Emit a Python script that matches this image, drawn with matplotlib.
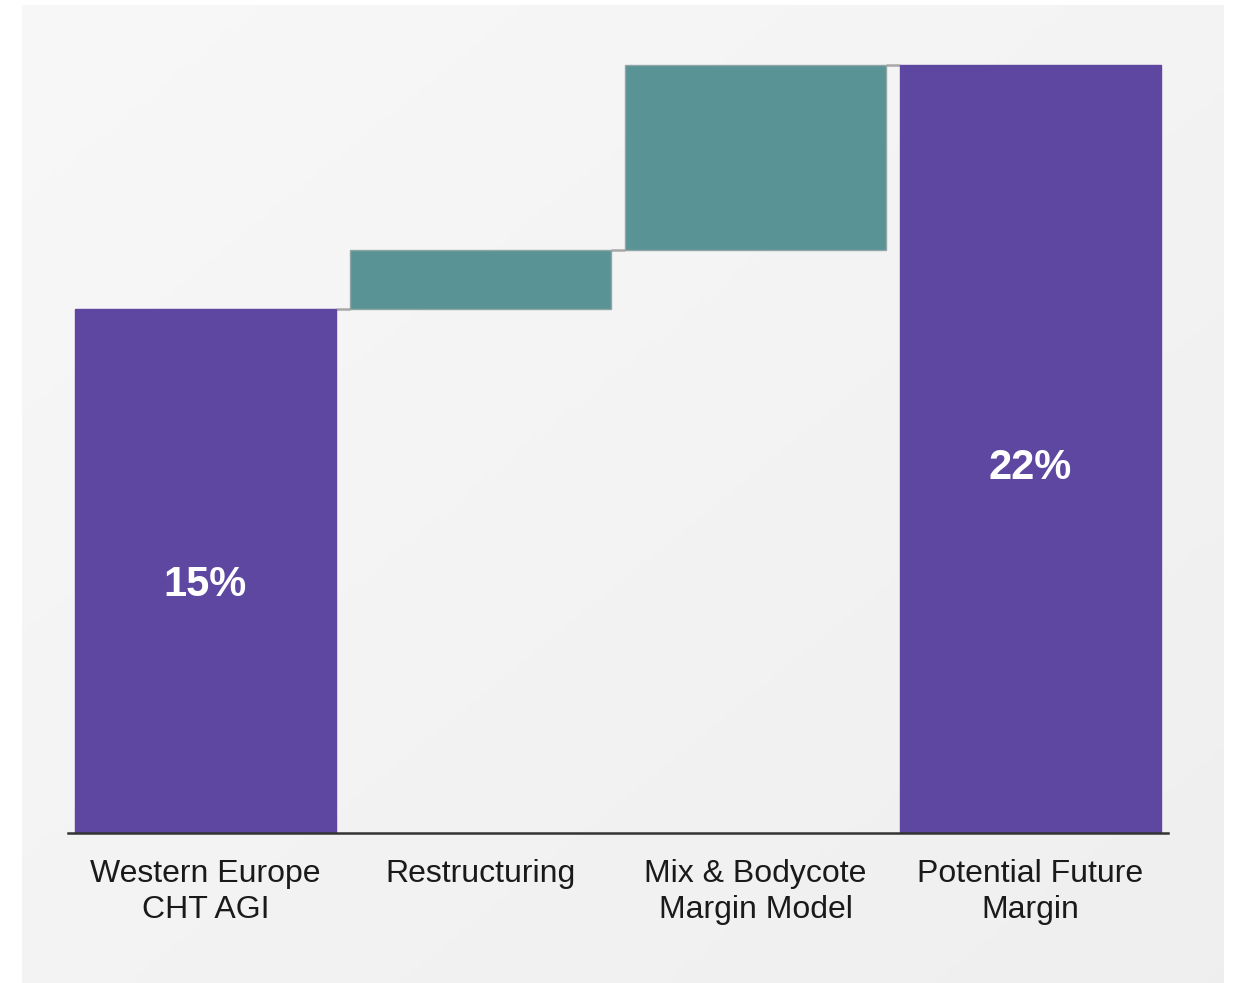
import numpy as np
import matplotlib
matplotlib.use("Agg")
import matplotlib.pyplot as plt

plt.rcParams['font.family'] = ['Liberation Sans', 'DejaVu Sans']

# waterfall data (margin %)
categories = ["Western Europe\nCHT AGI", "Restructuring",
              "Mix & Bodycote\nMargin Model", "Potential Future\nMargin"]
start_value = 15.0
steps = [1.7, 5.3]
end_value = 22.0
bar_labels = ["15%", "22%"]

purple = "#5e47a0"
teal = "#5a9396"

fig = plt.figure(figsize=(12.33, 9.83), dpi=100)
fig.patch.set_facecolor("white")

# soft grey panel behind the chart (light top-left -> slightly darker bottom-right)
bg = fig.add_axes([22 / 1233, 0, (1224 - 22) / 1233, (983 - 5) / 983])
gx, gy = np.meshgrid(np.linspace(0, 1, 200), np.linspace(0, 1, 200))
shade = 0.972 - 0.035 * (0.5 * gx + 0.5 * gy)
img = np.dstack([shade, shade, shade])
bg.imshow(img, aspect="auto", extent=[0, 1, 0, 1], origin="upper")
bg.set_axis_off()

ax = fig.add_axes([68 / 1233, (983 - 833) / 983, (1168 - 68) / 1233, (833 - 40) / 983])
ax.set_facecolor("none")

x = np.arange(len(categories))
w = 0.95

# bottoms / heights for each bar
bottoms = [0, start_value, start_value + steps[0], 0]
heights = [start_value, steps[0], steps[1], end_value]
colors = [purple, teal, teal, purple]
edges = [purple, "#8fa5a6", "#8fa5a6", purple]

ax.bar(x, heights, bottom=bottoms, width=w, color=colors,
       edgecolor=edges, linewidth=1.0, zorder=2)

# connector lines between bars
tops = [b + h for b, h in zip(bottoms, heights)]
for i in range(len(x) - 1):
    ax.plot([x[i] + w / 2, x[i + 1] - w / 2], [tops[i], tops[i]],
            color="#a8a8a8", lw=1.8, zorder=1, solid_capstyle="butt")

# value labels inside the totals
ax.text(x[0], 7.1, bar_labels[0], color="white", fontsize=30,
        fontweight="bold", ha="center", va="center")
ax.text(x[3], 10.45, bar_labels[1], color="white", fontsize=30,
        fontweight="bold", ha="center", va="center")

ax.set_xlim(-0.5, 3.5)
ax.set_ylim(0, 22.72)
ax.set_xticks(x)
ax.set_xticklabels(categories, fontsize=23, color="#1a1a1a", linespacing=1.25)
ax.tick_params(axis="x", length=0, pad=19)
ax.set_yticks([])
for s in ["top", "right", "left"]:
    ax.spines[s].set_visible(False)
ax.spines["bottom"].set_color("#333333")
ax.spines["bottom"].set_linewidth(1.8)

fig.savefig("out.png", dpi=100)
